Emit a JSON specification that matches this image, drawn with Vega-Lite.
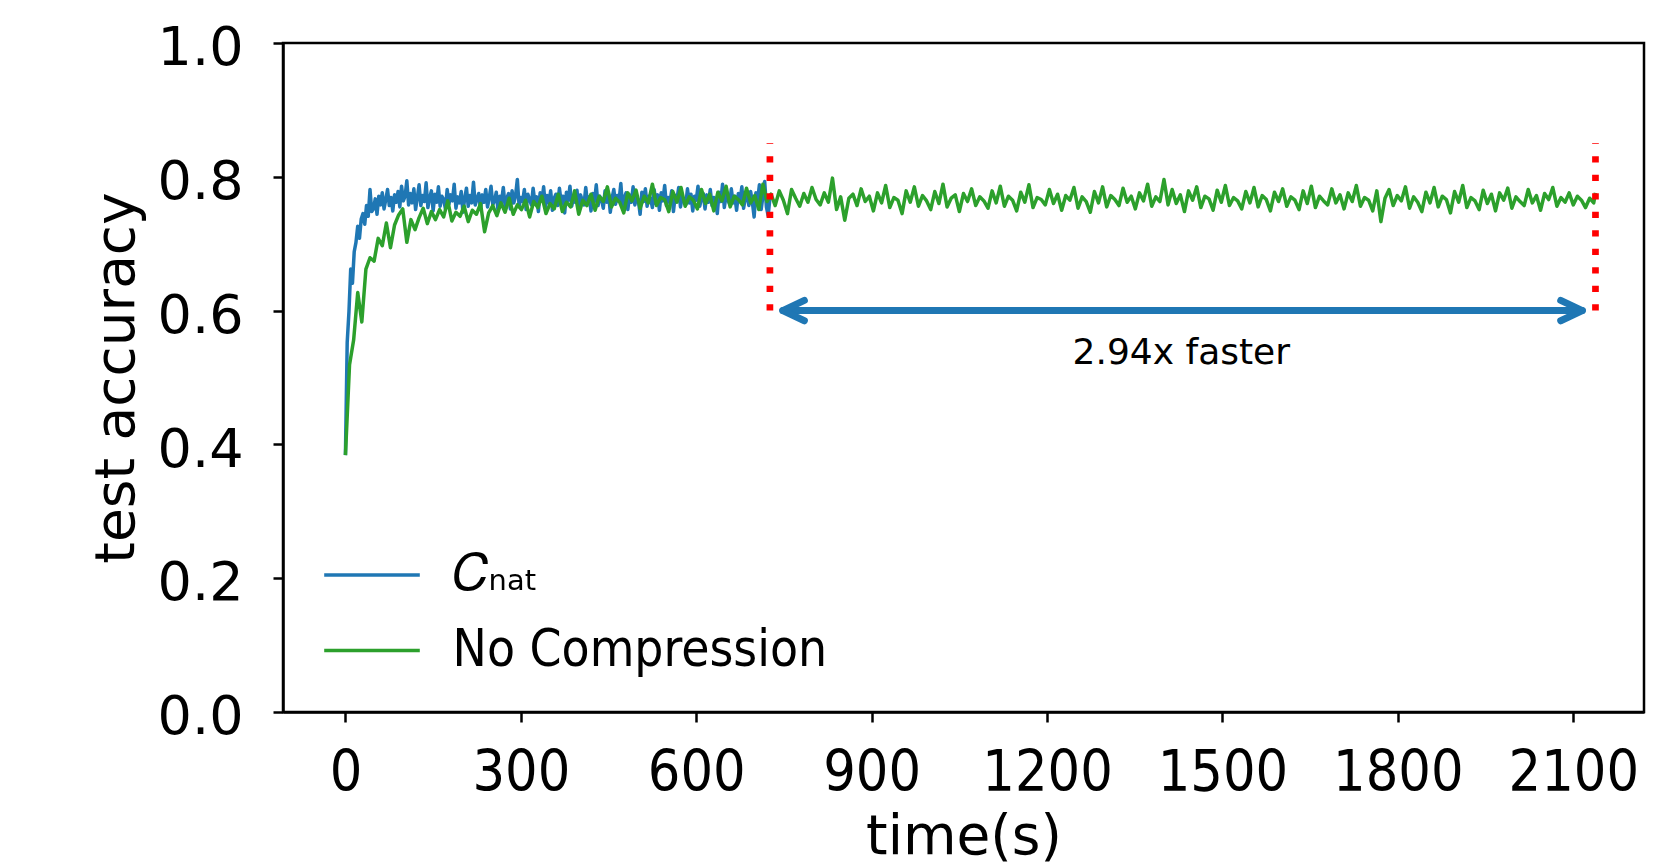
{
  "$schema": "https://vega.github.io/schema/vega-lite/v6.json",
  "width": 1361,
  "height": 669,
  "autosize": {"type": "none"},
  "padding": {"left": 283, "top": 43, "right": 35, "bottom": 154},
  "background": "white",
  "config": {
    "font": "DejaVu Sans",
    "view": {"stroke": "black", "strokeWidth": 2.5},
    "axis": {"grid": false, "domainColor": "black", "domainWidth": 2.5, "tickColor": "black", "tickWidth": 2.5, "tickSize": 10, "labelColor": "black", "titleColor": "black", "titleFontWeight": "normal", "labelFont": "DejaVu Sans", "titleFont": "DejaVu Sans"}
  },
  "encoding": {
    "x": {"field": "t", "type": "quantitative", "scale": {"domain": [-106.8, 2221], "nice": false, "zero": false},
      "axis": {"values": [0, 300, 600, 900, 1200, 1500, 1800, 2100], "format": "d", "title": "time(s)", "labelFont": "DejaVu Sans Condensed, DejaVu Sans", "labelFontSize": 57, "labelBaseline": "alphabetic", "labelPadding": 68, "labelFlush": false, "titleFontSize": 55, "titleBaseline": "alphabetic", "titleY": 141}},
    "y": {"field": "y", "type": "quantitative", "scale": {"domain": [0, 1], "nice": false},
      "axis": {"values": [0, 0.2, 0.4, 0.6, 0.8, 1.0], "format": ".1f", "title": "test accuracy", "labelFontSize": 54, "labelBaseline": "alphabetic", "labelOffset": 21.6, "labelPadding": 30, "titleFontSize": 55, "titleBaseline": "alphabetic", "titleX": -150, "titleY": 334.5, "titleAngle": -90}}
  },
  "layer": [
    {
      "data": {
        "values": "s,t,y\na,0,.384\na,3,.552\na,6,.598\na,9,.662\na,12,.641\na,15,.688\na,18,.702\na,21,.726\na,24,.708\na,27,.737\na,30,.745\na,33,.729\na,36,.757\na,39,.741\na,42,.781\na,45,.748\na,48,.752\na,51,.767\na,54,.744\na,57,.771\na,60,.758\na,63,.776\na,66,.752\na,69,.766\na,72,.781\na,75,.757\na,78,.769\na,81,.749\na,84,.773\na,87,.762\na,90,.778\na,93,.755\na,96,.786\na,99,.764\na,102,.771\na,105,.794\na,108,.758\na,111,.775\na,114,.761\na,117,.782\na,120,.751\na,123,.769\na,126,.788\na,129,.757\na,132,.772\na,135,.763\na,138,.791\na,141,.754\na,144,.768\na,147,.779\na,150,.749\na,153,.774\na,156,.762\na,159,.785\na,162,.756\na,165,.771\na,168,.766\na,171,.752\na,174,.781\na,177,.759\na,180,.773\na,183,.764\na,186,.789\na,189,.753\na,192,.77\na,195,.761\na,198,.778\na,201,.747\na,204,.768\na,207,.783\na,210,.756\na,213,.772\na,216,.761\na,219,.792\na,222,.758\na,225,.767\na,228,.775\na,231,.751\na,234,.773\na,237,.762\na,240,.781\na,243,.755\na,246,.769\na,249,.786\na,252,.758\na,255,.764\na,258,.777\na,261,.749\na,264,.771\na,267,.763\na,270,.784\na,273,.757\na,276,.768\na,279,.775\na,282,.752\na,285,.779\na,288,.761\na,291,.772\na,294,.796\na,297,.756\na,300,.769\na,303,.763\na,306,.781\na,309,.751\na,312,.774\na,315,.766\na,318,.758\na,321,.783\na,324,.762\na,327,.77\na,330,.748\na,333,.776\na,336,.764\na,339,.785\na,342,.755\na,345,.772\na,348,.761\na,351,.779\na,354,.75\na,357,.768\na,360,.774\na,363,.757\na,366,.783\na,369,.762\na,372,.771\na,375,.746\na,378,.777\na,381,.765\na,384,.786\na,387,.756\na,390,.769\na,393,.762\na,396,.78\na,399,.752\na,402,.773\na,405,.765\na,408,.758\na,411,.784\na,414,.761\na,417,.77\na,420,.749\na,423,.775\na,426,.763\na,429,.788\na,432,.757\na,435,.771\na,438,.766\na,441,.753\na,444,.779\na,447,.762\na,450,.774\na,453,.747\na,456,.768\na,459,.781\na,462,.759\na,465,.772\na,468,.764\na,471,.79\na,474,.755\na,477,.769\na,480,.776\na,483,.751\na,486,.773\na,489,.762\na,492,.785\na,495,.758\na,498,.77\na,501,.765\na,504,.744\na,507,.777\na,510,.763\na,513,.782\na,516,.756\na,519,.771\na,522,.767\na,525,.754\na,528,.781\na,531,.76\na,534,.773\na,537,.75\na,540,.776\na,543,.764\na,546,.787\na,549,.757\na,552,.769\na,555,.762\na,558,.779\na,561,.748\na,564,.772\na,567,.766\na,570,.784\na,573,.755\na,576,.77\na,579,.763\na,582,.758\na,585,.782\na,588,.761\na,591,.774\na,594,.749\na,597,.771\na,600,.765\na,603,.786\na,606,.756\na,609,.768\na,612,.775\na,615,.752\na,618,.773\na,621,.762\na,624,.781\na,627,.757\na,630,.769\na,633,.764\na,636,.745\na,639,.777\na,642,.763\na,645,.789\na,648,.754\na,651,.772\na,654,.766\na,657,.759\na,660,.782\na,663,.761\na,666,.771\na,669,.75\na,672,.775\na,675,.764\na,678,.785\na,681,.753\na,684,.769\na,687,.773\na,690,.757\na,693,.778\na,696,.762\na,699,.74\na,702,.776\na,705,.765\na,708,.788\na,711,.751\na,714,.771\na,717,.793\na,720,.755\na,723,.742\na,726,.768\nb,0,.384\nb,7,.519\nb,14,.556\nb,21,.627\nb,28,.583\nb,35,.662\nb,42,.679\nb,49,.674\nb,56,.708\nb,63,.697\nb,70,.731\nb,77,.694\nb,84,.728\nb,91,.743\nb,98,.752\nb,105,.702\nb,112,.736\nb,119,.721\nb,126,.739\nb,133,.753\nb,140,.73\nb,147,.748\nb,154,.736\nb,161,.751\nb,168,.74\nb,175,.764\nb,182,.734\nb,189,.747\nb,196,.741\nb,203,.756\nb,210,.733\nb,217,.75\nb,224,.744\nb,231,.76\nb,238,.718\nb,245,.746\nb,252,.757\nb,259,.742\nb,266,.761\nb,273,.747\nb,280,.768\nb,287,.744\nb,294,.758\nb,301,.751\nb,308,.765\nb,315,.74\nb,322,.763\nb,329,.754\nb,336,.771\nb,343,.745\nb,350,.76\nb,357,.752\nb,364,.774\nb,371,.748\nb,378,.762\nb,385,.755\nb,392,.779\nb,399,.744\nb,406,.765\nb,413,.757\nb,420,.774\nb,427,.75\nb,434,.771\nb,441,.763\nb,448,.785\nb,455,.755\nb,462,.768\nb,469,.762\nb,476,.746\nb,483,.776\nb,490,.764\nb,497,.78\nb,504,.753\nb,511,.771\nb,518,.761\nb,525,.789\nb,532,.757\nb,539,.769\nb,546,.766\nb,553,.748\nb,560,.778\nb,567,.762\nb,574,.784\nb,581,.756\nb,588,.77\nb,595,.765\nb,602,.752\nb,609,.781\nb,616,.76\nb,623,.774\nb,630,.749\nb,637,.777\nb,644,.764\nb,651,.786\nb,658,.755\nb,665,.771\nb,672,.766\nb,679,.758\nb,686,.783\nb,693,.761\nb,700,.772\nb,707,.751\nb,714,.789\nb,721,.763\nb,728,.774\nb,735,.757\nb,742,.779\nb,749,.765\nb,756,.745\nb,763,.781\nb,770,.768\nb,777,.756\nb,784,.775\nb,791,.762\nb,798,.784\nb,805,.766\nb,812,.758\nb,819,.776\nb,826,.762\nb,833,.798\nb,840,.751\nb,847,.77\nb,854,.735\nb,861,.768\nb,868,.774\nb,875,.757\nb,882,.782\nb,889,.763\nb,896,.771\nb,903,.749\nb,910,.776\nb,917,.761\nb,924,.787\nb,931,.754\nb,938,.769\nb,945,.765\nb,952,.745\nb,959,.779\nb,966,.762\nb,973,.785\nb,980,.756\nb,987,.772\nb,994,.764\nb,1001,.751\nb,1008,.778\nb,1015,.76\nb,1022,.789\nb,1029,.755\nb,1036,.768\nb,1043,.773\nb,1050,.748\nb,1057,.775\nb,1064,.763\nb,1071,.782\nb,1078,.757\nb,1085,.77\nb,1092,.764\nb,1099,.753\nb,1106,.779\nb,1113,.761\nb,1120,.786\nb,1127,.756\nb,1134,.771\nb,1141,.765\nb,1148,.749\nb,1155,.777\nb,1162,.762\nb,1169,.788\nb,1176,.754\nb,1183,.769\nb,1190,.766\nb,1197,.758\nb,1204,.781\nb,1211,.76\nb,1218,.774\nb,1225,.75\nb,1232,.772\nb,1239,.765\nb,1246,.784\nb,1253,.753\nb,1260,.77\nb,1267,.763\nb,1274,.747\nb,1281,.778\nb,1288,.761\nb,1295,.785\nb,1302,.755\nb,1309,.772\nb,1316,.766\nb,1323,.757\nb,1330,.783\nb,1337,.762\nb,1344,.771\nb,1351,.752\nb,1358,.776\nb,1365,.764\nb,1372,.789\nb,1379,.756\nb,1386,.77\nb,1393,.763\nb,1400,.796\nb,1407,.758\nb,1414,.781\nb,1421,.76\nb,1428,.773\nb,1435,.748\nb,1442,.779\nb,1449,.765\nb,1456,.785\nb,1463,.754\nb,1470,.771\nb,1477,.767\nb,1484,.75\nb,1491,.78\nb,1498,.762\nb,1505,.787\nb,1512,.757\nb,1519,.769\nb,1526,.764\nb,1533,.752\nb,1540,.778\nb,1547,.761\nb,1554,.784\nb,1561,.755\nb,1568,.772\nb,1575,.766\nb,1582,.749\nb,1589,.777\nb,1596,.763\nb,1603,.782\nb,1610,.756\nb,1617,.77\nb,1624,.765\nb,1631,.751\nb,1638,.779\nb,1645,.76\nb,1652,.786\nb,1659,.754\nb,1666,.771\nb,1673,.764\nb,1680,.758\nb,1687,.782\nb,1694,.761\nb,1701,.773\nb,1708,.752\nb,1715,.776\nb,1722,.763\nb,1729,.787\nb,1736,.756\nb,1743,.769\nb,1750,.765\nb,1757,.749\nb,1764,.779\nb,1771,.733\nb,1778,.768\nb,1785,.781\nb,1792,.757\nb,1799,.772\nb,1806,.764\nb,1813,.785\nb,1820,.753\nb,1827,.77\nb,1834,.762\nb,1841,.748\nb,1848,.777\nb,1855,.761\nb,1862,.784\nb,1869,.755\nb,1876,.771\nb,1883,.766\nb,1890,.746\nb,1897,.778\nb,1904,.762\nb,1911,.787\nb,1918,.754\nb,1925,.769\nb,1932,.764\nb,1939,.751\nb,1946,.78\nb,1953,.76\nb,1960,.774\nb,1967,.749\nb,1974,.776\nb,1981,.765\nb,1988,.783\nb,1995,.753\nb,2002,.77\nb,2009,.763\nb,2016,.757\nb,2023,.781\nb,2030,.761\nb,2037,.772\nb,2044,.75\nb,2051,.775\nb,2058,.766\nb,2065,.784\nb,2072,.756\nb,2079,.769\nb,2086,.762\nb,2093,.776\nb,2100,.758\nb,2107,.771\nb,2114,.765\nb,2121,.754\nb,2128,.768\nb,2135,.761\nb,2138,.776",
        "format": {"type": "csv", "parse": {"t": "number", "y": "number"}}
      },
      "mark": {"type": "line", "strokeWidth": 3.5, "strokeJoin": "round"},
      "encoding": {
        "color": {"field": "s", "type": "nominal",
          "scale": {"domain": ["a", "b"], "range": ["#1f77b4", "#2ca02c"]},
          "legend": {"orient": "none", "legendX": 39, "legendY": 482, "title": null, "symbolType": "stroke", "symbolSize": 9139, "symbolStrokeWidth": 3.5, "labelFontSize": 51, "labelFont": "DejaVu Sans Condensed, DejaVu Sans", "labelColor": "black", "labelOffset": 30.6, "rowPadding": 0.5, "padding": 0, "labelLimit": 0,
            "labelExpr": "datum.label == 'a' ? '𝐶ₙₐₜ' : 'No Compression'"}}
      }
    },
    {
      "data": {"values": [{"t": 726, "y": 0.6, "y2": 0.85}, {"t": 2138, "y": 0.6, "y2": 0.85}]},
      "mark": {"type": "rule", "color": "#ff0000", "strokeWidth": 6.7, "strokeDash": [6.3, 12.2], "strokeCap": "butt"},
      "encoding": {"y2": {"field": "y2"}}
    },
    {
      "data": {"values": [{"t": 748, "t2": 2115.5, "y": 0.6}]},
      "mark": {"type": "rule", "color": "#1f77b4", "strokeWidth": 7, "strokeCap": "round"},
      "encoding": {"x2": {"field": "t2"}}
    },
    {
      "data": {"values": [{"t": 748, "y": 0.6}]},
      "mark": {"type": "point", "shape": "M1,-0.47L0,0L1,0.47", "size": 1866, "filled": false, "stroke": "#1f77b4", "strokeWidth": 7, "strokeCap": "round", "strokeJoin": "round", "opacity": 1}
    },
    {
      "data": {"values": [{"t": 2115.5, "y": 0.6}]},
      "mark": {"type": "point", "shape": "M-1,-0.47L0,0L-1,0.47", "size": 1866, "filled": false, "stroke": "#1f77b4", "strokeWidth": 7, "strokeCap": "round", "strokeJoin": "round", "opacity": 1}
    },
    {
      "data": {"values": [{"t": 1429.6, "y": 0.52, "label": "2.94x faster"}]},
      "mark": {"type": "text", "fontSize": 36, "font": "DejaVu Sans", "align": "center", "baseline": "alphabetic", "color": "black"},
      "encoding": {"text": {"field": "label"}}
    }
  ]
}
